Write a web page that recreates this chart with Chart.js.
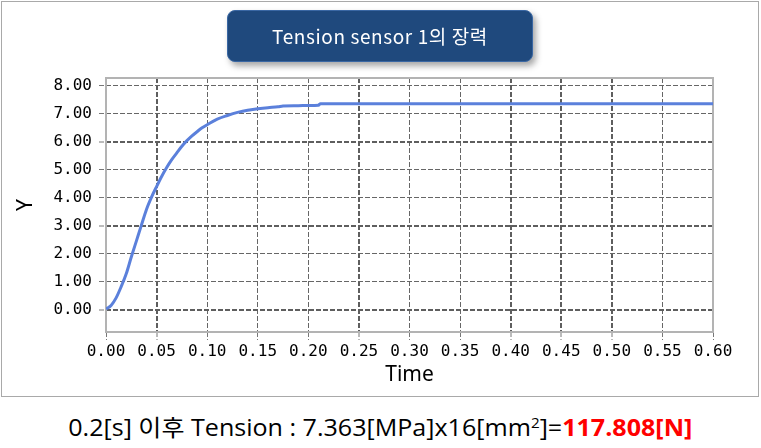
<!DOCTYPE html>
<html>
<head>
<meta charset="utf-8">
<script src="https://cdn.jsdelivr.net/npm/chart.js@4.4.1/dist/chart.umd.min.js"></script>
<style>
  html, body { margin: 0; padding: 0; background: #fff; }
  #wrap { position: relative; width: 761px; height: 448px; overflow: hidden; }
  #frame { position: absolute; left: 1px; top: 1px; width: 756px; height: 394px; border: 1px solid #a9a9a9; }
  #chart { position: absolute; left: 0; top: 0; }
  #title {
    position: absolute; left: 227px; top: 10px; width: 304px; height: 50px;
    background: #1f497d; border: 1px solid #3a67a3; border-radius: 8px;
    box-shadow: 3px 4px 6px rgba(0, 0, 0, 0.35);
    color: #fff; font: 19px "Noto Sans CJK KR", "Noto Sans", sans-serif;
    letter-spacing: 0.6px;
    line-height: 50px; text-align: center; white-space: nowrap;
  }
  #note {
    position: absolute; left: 0; top: 416px; width: 761px; text-align: center;
    font: 23px "Open Sans", "Noto Sans CJK KR", sans-serif; line-height: 23px; color: #000;
    white-space: nowrap;
  }
  #note span.inner { display: inline-block; transform-origin: center; }
  #note b { color: #ff0000; }
  #note sup { font-size: 14px; vertical-align: 8px; line-height: 0; }
</style>
</head>
<body>
<div id="wrap">
  <div id="frame"></div>
  <canvas id="chart" width="761" height="400"></canvas>
  <div id="title">Tension sensor 1의 장력</div>
  <div id="note"><span class="inner">0.2[s] 이후 Tension : 7.363[MPa]x16[mm<sup>2</sup>]=<b>117.808[N]</b></span></div>
</div>
<script>
// time [s] and tension [MPa]
const times = [0, 0.005, 0.010, 0.015, 0.020, 0.025, 0.030, 0.035, 0.040, 0.045,
  0.050, 0.055, 0.060, 0.065, 0.070, 0.075, 0.080, 0.085, 0.090, 0.095,
  0.100, 0.110, 0.120, 0.130, 0.140, 0.150, 0.160, 0.170, 0.175, 0.190,
  0.200, 0.210, 0.212, 0.300, 0.400, 0.500, 0.600];
const tension = [0.02, 0.15, 0.42, 0.82, 1.28, 1.88, 2.45, 3.02, 3.58, 4.02,
  4.40, 4.76, 5.08, 5.36, 5.60, 5.84, 6.04, 6.21, 6.36, 6.50,
  6.61, 6.81, 6.94, 7.05, 7.13, 7.18, 7.22, 7.25, 7.28, 7.29,
  7.30, 7.31, 7.363, 7.363, 7.363, 7.363, 7.363];

const xTicks = [0, 0.05, 0.10, 0.15, 0.20, 0.25, 0.30, 0.35, 0.40, 0.45, 0.50, 0.55, 0.60];
const yTicks = [0, 1, 2, 3, 4, 5, 6, 7, 8];

// grid lines that show up heavier in the original picture
const heavyX = [0.05, 0.25, 0.40, 0.45, 0.50];
const heavyY = [0, 3, 6];

function isIn(list, v) {
  return list.some(u => Math.abs(u - v) < 1e-9);
}

const plotFrame = {
  id: 'plotFrame',
  beforeDatasetsDraw(chart) {
    const a = chart.chartArea;
    const ctx = chart.ctx;
    ctx.save();
    ctx.strokeStyle = '#b3b3b3';
    ctx.lineWidth = 2;
    ctx.strokeRect(a.left, a.top, a.right - a.left, a.bottom - a.top);
    ctx.restore();
  }
};

const tickFont = { family: '"DejaVu Sans Mono", "Liberation Mono", monospace', size: 16 };
const titleFont = { family: '"Noto Sans", "Open Sans", sans-serif', size: 21 };

const ctx = document.getElementById('chart').getContext('2d');
const chart = new Chart(ctx, {
  type: 'line',
  data: {
    datasets: [{
      label: 'Tension',
      data: times.map((t, i) => ({ x: t, y: tension[i] })),
      borderColor: '#5b80db',
      borderWidth: 3,
      pointRadius: 0,
      cubicInterpolationMode: 'monotone',
      fill: false
    }]
  },
  options: {
    responsive: false,
    animation: false,
    layout: { padding: { left: 0, top: 78, right: 48, bottom: 12 } },
    plugins: {
      legend: { display: false },
      tooltip: { enabled: false }
    },
    scales: {
      x: {
        type: 'linear',
        min: 0,
        max: 0.6,
        afterBuildTicks: s => { s.ticks = xTicks.map(v => ({ value: v })); },
        afterFit: s => { s.height = 56; },
        border: { display: false, dash: [5, 2] },
        grid: {
          color: c => (isIn(heavyX, c.tick.value) ? '#5e5e5e' : '#666'),
          lineWidth: c => (isIn(heavyX, c.tick.value) ? 2 : 1),
          tickLength: 8,
          tickColor: '#777',
          tickWidth: 1,
          tickBorderDash: [5, 2]
        },
        ticks: {
          color: '#000',
          font: tickFont,
          padding: 2,
          maxRotation: 0,
          callback: v => v.toFixed(2)
        },
        title: {
          display: true,
          text: 'Time',
          color: '#000',
          font: titleFont,
          padding: { top: 0, bottom: 0 }
        }
      },
      y: {
        min: -0.8,
        max: 8.28,
        afterBuildTicks: s => { s.ticks = yTicks.map(v => ({ value: v })); },
        afterFit: s => { s.width = 106; },
        border: { display: false, dash: [5, 2] },
        grid: {
          color: c => (isIn(heavyY, c.tick.value) ? '#5e5e5e' : '#666'),
          lineWidth: c => (isIn(heavyY, c.tick.value) ? 2 : 1),
          tickLength: 7,
          tickColor: '#777',
          tickWidth: 1,
          tickBorderDash: [5, 2]
        },
        ticks: {
          color: '#000',
          font: tickFont,
          padding: 7,
          callback: v => v.toFixed(2)
        },
        title: {
          display: true,
          text: 'Y',
          color: '#000',
          font: titleFont,
          padding: { top: 13, bottom: 0 }
        }
      }
    }
  },
  plugins: [plotFrame]
});

// squeeze the bottom note to the width it has in the original
const inner = document.querySelector('#note .inner');
const w = inner.getBoundingClientRect().width;
inner.style.transform = 'scaleX(' + (624 / w).toFixed(3) + ')';
</script>
</body>
</html>
